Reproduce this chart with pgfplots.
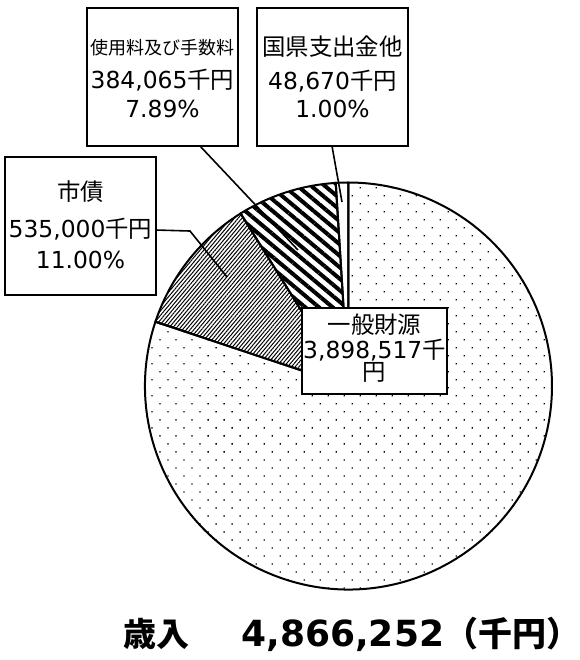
\documentclass[border=0pt]{standalone}
\usepackage{fontspec}
\setmainfont{DejaVu Sans}
\newfontfamily\cjk{Noto Sans CJK JP}
\usepackage{xfp}
\usepackage{pgfplots}
\pgfplotsset{compat=1.18}
\usepackage{pgfplotstable}
\usetikzlibrary{patterns.meta}

\pgfplotstableread{
name value
kokken 48670
shiyo 384065
saisai 535000
ippan 3898517
}\piedata

\pgfplotstablegetelem{0}{value}\of\piedata \let\vA\pgfplotsretval
\pgfplotstablegetelem{1}{value}\of\piedata \let\vB\pgfplotsretval
\pgfplotstablegetelem{2}{value}\of\piedata \let\vC\pgfplotsretval
\pgfplotstablegetelem{3}{value}\of\piedata \let\vD\pgfplotsretval
\edef\tot{\fpeval{\vA+\vB+\vC+\vD}}
\edef\angA{\fpeval{90+360*\vA/\tot}}
\edef\angB{\fpeval{\angA+360*\vB/\tot}}
\edef\angC{\fpeval{\angB+360*\vC/\tot}}

\def\R{101.75bp}
\newcommand\lab{\fontsize{11.7bp}{14bp}\selectfont}

\begin{document}
\begin{tikzpicture}
\begin{axis}[
  width=290bp, height=330bp, scale only axis,
  xmin=0, xmax=580, ymin=0, ymax=660, y dir=reverse,
  hide axis, clip=false]
% pie slices
\draw[line width=1bp, fill=white] (axis cs:348.5,386) -- ++(90:\R) arc[start angle=90, end angle=\angA, radius=\R] -- cycle;
\draw[line width=1bp, pattern={Lines[angle=-40, distance=4.4bp, line width=2bp]}, pattern color=black] (axis cs:348.5,386) -- ++(\angA:\R) arc[start angle=\angA, end angle=\angB, radius=\R] -- cycle;
\draw[line width=1bp, pattern={Lines[angle=50, distance=1.45bp, line width=0.5bp]}, pattern color=black] (axis cs:348.5,386) -- ++(\angB:\R) arc[start angle=\angB, end angle=\angC, radius=\R] -- cycle;
\draw[line width=1bp, pattern={Dots[angle=45, distance=5.66bp, radius=0.45bp]}, pattern color=black] (axis cs:348.5,386) -- ++(\angC:\R) arc[start angle=\angC, end angle=450, radius=\R] -- cycle;
% leader lines
\draw[line width=0.8bp] (axis cs:200,146) -- (axis cs:298,250);
\draw[line width=0.8bp] (axis cs:156,230) -- (axis cs:190,231) -- (axis cs:227,277);
\draw[line width=0.8bp] (axis cs:332,146) -- (axis cs:342,202);
% boxes
\draw[line width=1bp, fill=white] (axis cs:87,8) rectangle (axis cs:238,146);
\draw[line width=1bp, fill=white] (axis cs:257,8) rectangle (axis cs:408,146);
\draw[line width=1bp, fill=white] (axis cs:5,157) rectangle (axis cs:156,295);
\draw[line width=1bp, fill=white] (axis cs:302,308) rectangle (axis cs:447,394);
% labels
\node[anchor=base, inner sep=0pt, font=\fontsize{9bp}{11bp}\selectfont] at (axis cs:162.5,54) {\cjk 使用料及び手数料};
\node[anchor=base, inner sep=0pt, font=\lab] at (axis cs:162.5,88) {384,065{\cjk 千円}};
\node[anchor=base, inner sep=0pt, font=\lab] at (axis cs:162.5,117) {7.89\%};
\node[anchor=base, inner sep=0pt, font=\lab] at (axis cs:332.5,55) {\cjk 国県支出金他};
\node[anchor=base, inner sep=0pt, font=\lab] at (axis cs:332.5,89) {48,670{\cjk 千円}};
\node[anchor=base, inner sep=0pt, font=\lab] at (axis cs:332.5,117) {1.00\%};
\node[anchor=base, inner sep=0pt, font=\lab] at (axis cs:80.5,200) {\cjk 市債};
\node[anchor=base, inner sep=0pt, font=\lab] at (axis cs:80.5,237) {535,000{\cjk 千円}};
\node[anchor=base, inner sep=0pt, font=\lab] at (axis cs:80.5,268) {11.00\%};
\node[anchor=base, inner sep=0pt, font=\lab] at (axis cs:374.5,333) {\cjk 一般財源};
\node[anchor=base, inner sep=0pt, font=\lab] at (axis cs:374.5,358) {3,898,517{\cjk 千}};
\node[anchor=base, inner sep=0pt, font=\lab] at (axis cs:374.5,380) {\cjk 円};
% title
\node[anchor=base west, inner sep=0pt, font=\fontsize{18bp}{22bp}\selectfont\bfseries] at (axis cs:123,646) {{\cjk\fontsize{16.5bp}{20bp}\selectfont 歳入}\hspace{26bp}4,866,252{\cjk\fontsize{17bp}{20bp}\selectfont （千円）}};
\end{axis}
\pgfresetboundingbox
\path (0,0) rectangle (290bp,330bp);
\end{tikzpicture}
\end{document}
